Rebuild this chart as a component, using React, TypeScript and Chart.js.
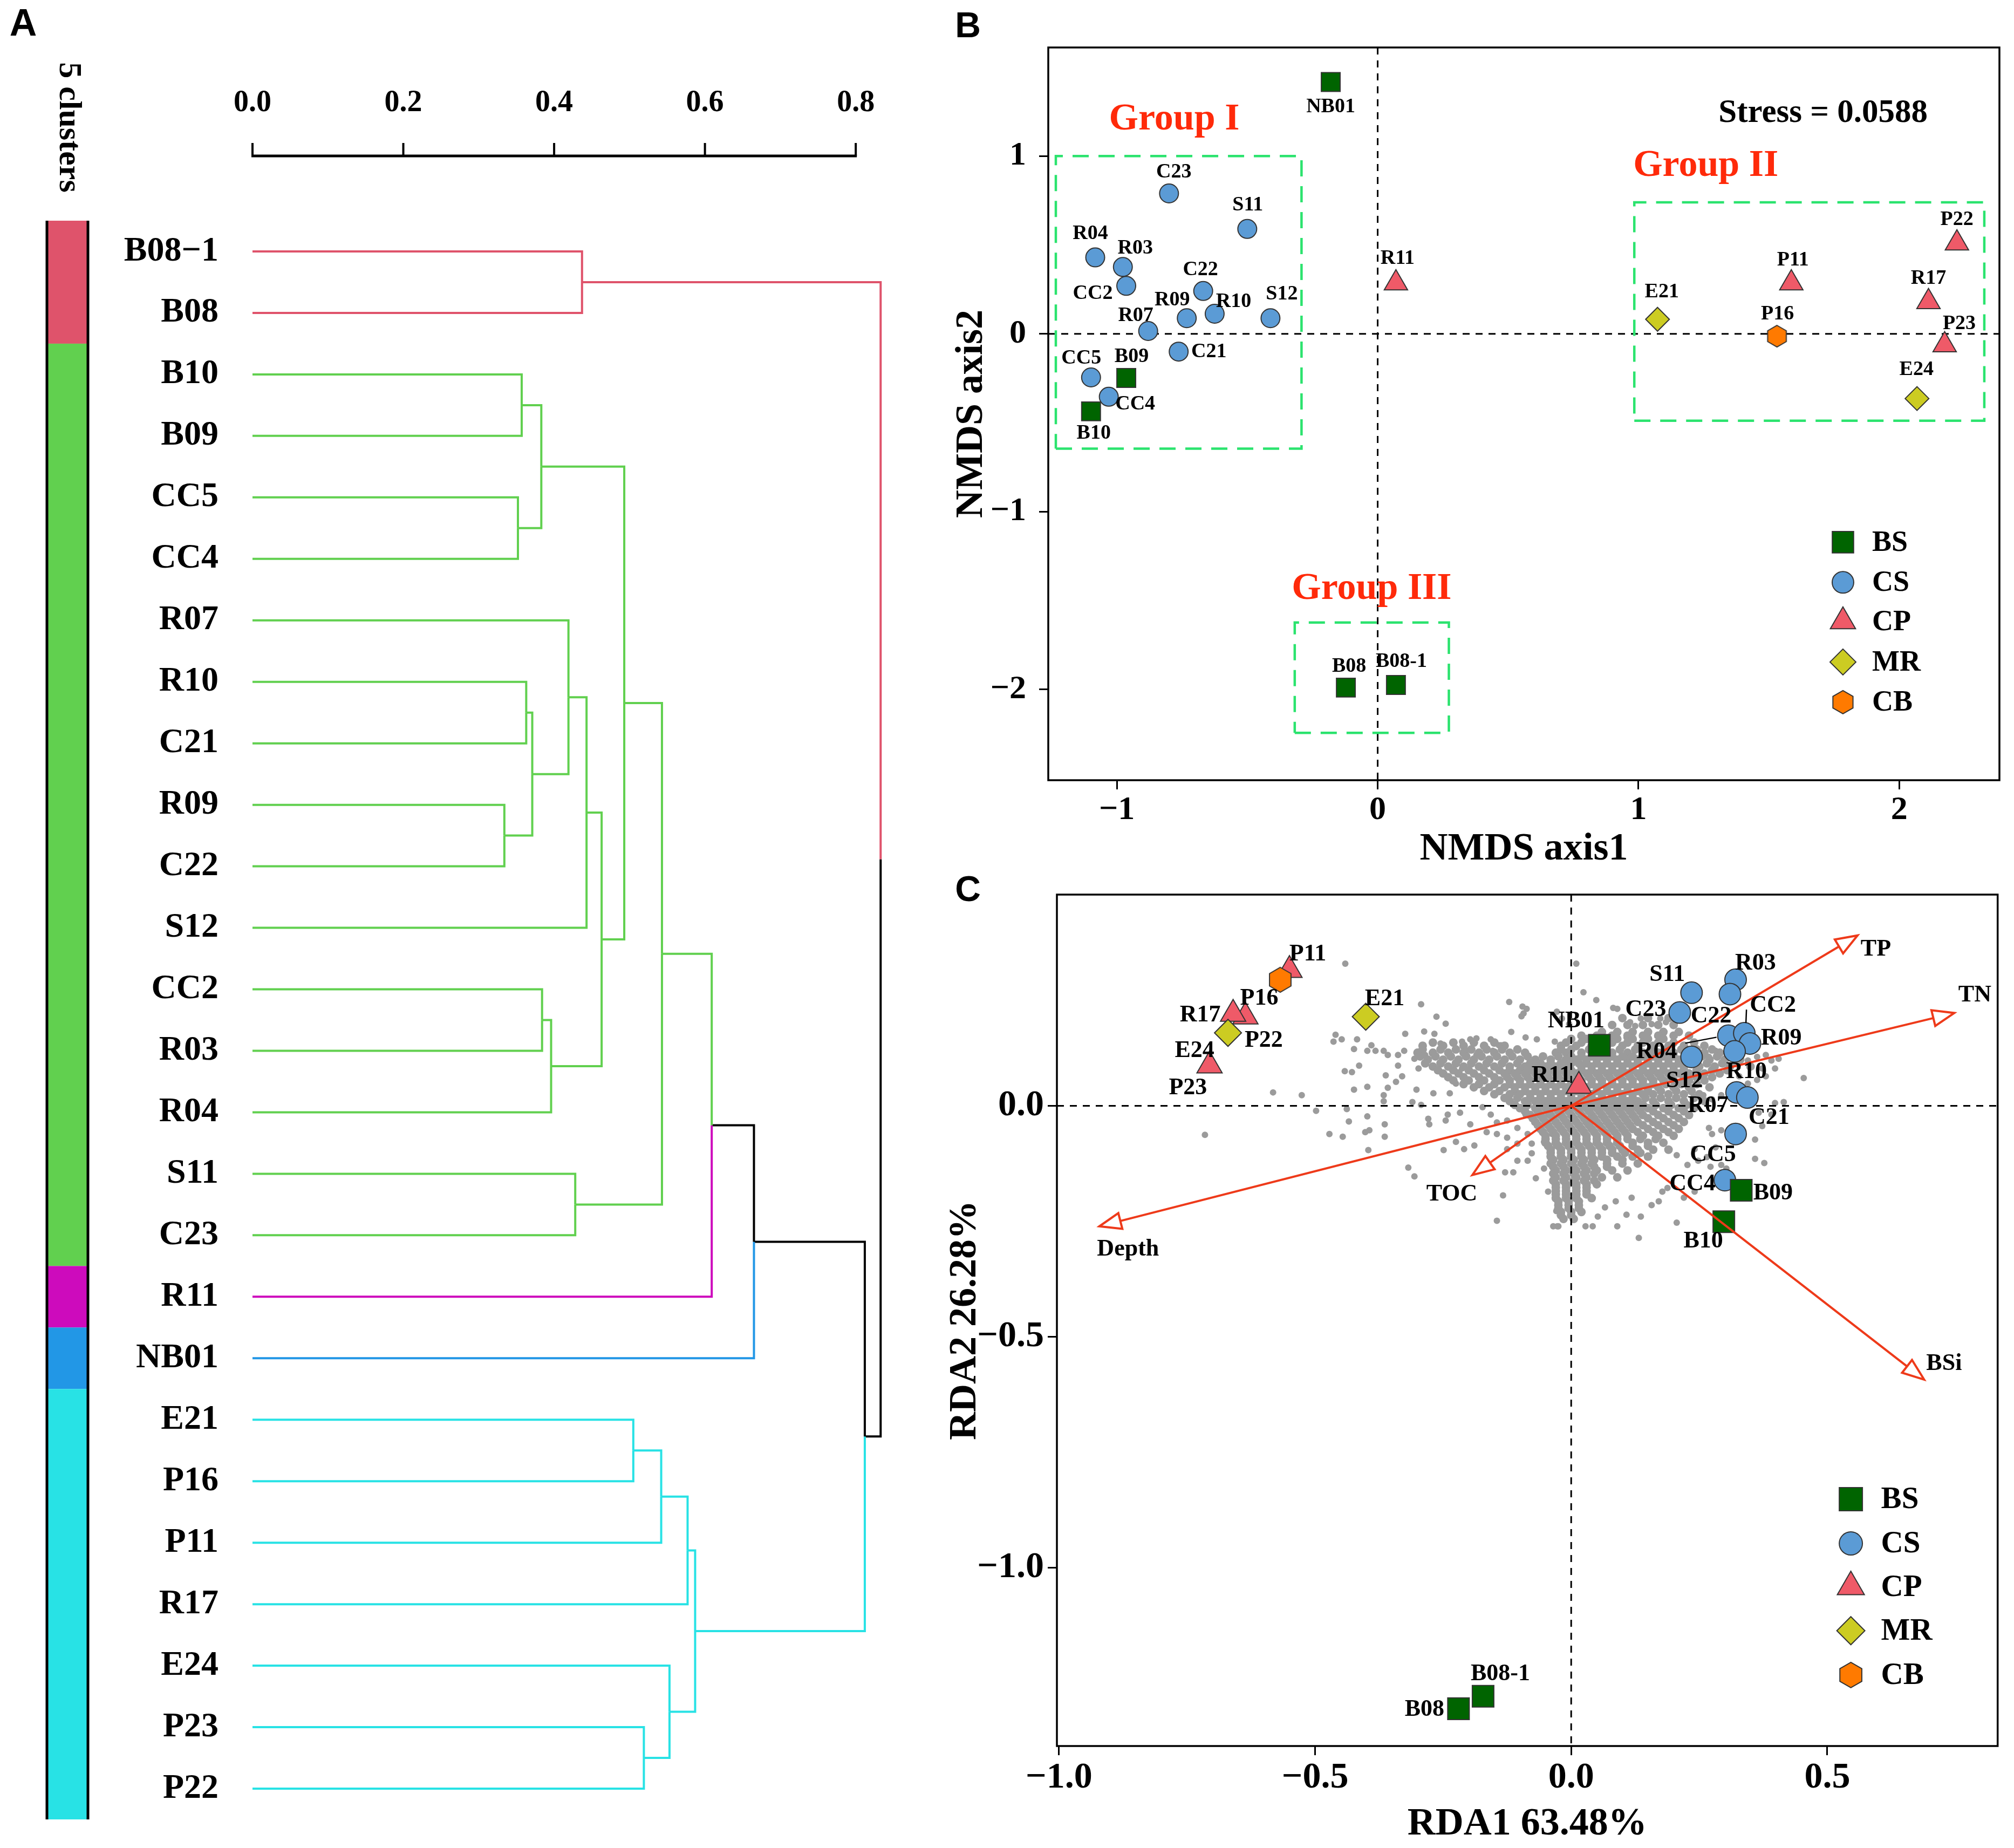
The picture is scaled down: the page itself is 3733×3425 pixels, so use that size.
import React, { useEffect, useRef } from 'react';
import { Chart, registerables } from 'chart.js';

Chart.register(...registerables);

const SERIF = '"Liberation Serif", "Times New Roman", Times, serif';
const SANS = '"Liberation Sans", Arial, Helvetica, sans-serif';

// ================= Panel A: dendrogram =================
const leafNames = ['B08\u22121', 'B08', 'B10', 'B09', 'CC5', 'CC4', 'R07', 'R10', 'C21', 'R09', 'C22', 'S12', 'CC2', 'R03', 'R04', 'S11', 'C23', 'R11', 'NB01', 'E21', 'P16', 'P11', 'R17', 'E24', 'P23', 'P22'];
const leafCluster = [0, 0, 1, 1, 1, 1, 1, 1, 1, 1, 1, 1, 1, 1, 1, 1, 1, 2, 3, 4, 4, 4, 4, 4, 4, 4];
const clusterColors = ['#DF536B', '#61D04F', '#CD0BBC', '#2297E6', '#28E2E5'];
// hclust-style merges: negative = leaf (1-based), positive = earlier merge (1-based)
const mergeLeft = [-1, -3, -5, 2, -8, -10, 5, -7, 8, -13, 10, 9, 4, -16, 13, 15, 16, -20, 18, 19, -25, -24, 20, 17, 1];
const mergeRight = [-2, -4, -6, 3, -9, -11, 6, 7, -12, -14, -15, 11, 12, -17, 14, -18, -19, -21, -22, -23, -26, 21, 22, 23, 24];
const mergeHeight = [0.437, 0.357, 0.352, 0.383, 0.363, 0.334, 0.371, 0.419, 0.443, 0.384, 0.396, 0.463, 0.493, 0.428, 0.543, 0.609, 0.665, 0.505, 0.542, 0.577, 0.519, 0.553, 0.587, 0.812, 0.833];
const dendroTicks = [0, 0.2, 0.4, 0.6, 0.8];
const clusterTitle = '5 clusters';

// ================= Samples (panels B and C) =================
const sampleNames = ['NB01', 'B09', 'B10', 'B08', 'B08-1', 'C23', 'S11', 'R04', 'R03', 'CC2', 'C22', 'R09', 'R10', 'S12', 'R07', 'C21', 'CC5', 'CC4', 'R11', 'P11', 'P22', 'R17', 'P23', 'E21', 'E24', 'P16'];
const sampleType = ['BS', 'BS', 'BS', 'BS', 'BS', 'CS', 'CS', 'CS', 'CS', 'CS', 'CS', 'CS', 'CS', 'CS', 'CS', 'CS', 'CS', 'CS', 'CP', 'CP', 'CP', 'CP', 'CP', 'MR', 'MR', 'CB'];
const nmds1 = [-0.18, -0.964, -1.099, -0.122, 0.07, -0.80, -0.50, -1.083, -0.977, -0.964, -0.669, -0.732, -0.625, -0.411, -0.880, -0.763, -1.099, -1.031, 0.07, 1.586, 2.221, 2.112, 2.174, 1.073, 2.068, 1.531];
const nmds2 = [1.417, -0.248, -0.436, -1.99, -1.975, 0.79, 0.59, 0.43, 0.376, 0.27, 0.241, 0.088, 0.113, 0.088, 0.016, -0.10, -0.245, -0.354, 0.285, 0.285, 0.51, 0.18, -0.063, 0.082, -0.364, -0.013];
const rda1 = [0.055, 0.332, 0.298, -0.220, -0.172, 0.212, 0.235, 0.307, 0.321, 0.338, 0.310, 0.349, 0.319, 0.235, 0.323, 0.344, 0.321, 0.300, 0.015, -0.55, -0.636, -0.66, -0.706, -0.401, -0.670, -0.568];
const rda2 = [0.131, -0.183, -0.251, -1.306, -1.279, 0.202, 0.245, 0.152, 0.273, 0.157, 0.242, 0.135, 0.118, 0.106, 0.029, 0.018, -0.061, -0.161, 0.043, 0.294, 0.193, 0.199, 0.087, 0.193, 0.158, 0.273];
const typeNames = ['BS', 'CS', 'CP', 'MR', 'CB'];

// NMDS groups
const groupNames = ['Group I', 'Group II', 'Group III'];
const groupXMin = [-1.234, 0.984, -0.318];
const groupXMax = [-0.292, 2.326, 0.273];
const groupYMin = [-0.646, -0.489, -2.245];
const groupYMax = [1.0, 0.74, -1.624];
const groupLabelX = [-0.78, 1.258, -0.023];
const groupLabelY = [1.204, 0.944, -1.436];
const stressText = 'Stress = 0.0588';
const nmdsXTicks = [-1, 0, 1, 2];
const nmdsYTicks = [-2, -1, 0, 1];

// RDA environmental vectors
const envNames = ['TP', 'TN', 'BSi', 'Depth', 'TOC'];
const envRda1 = [0.559, 0.748, 0.689, -0.921, -0.193];
const envRda2 = [0.369, 0.201, -0.593, -0.261, -0.150];
const rdaXTicks = [-1, -0.5, 0, 0.5];
const rdaYTicks = [-1, -0.5, 0];

// RDA species scores (grey cloud), dense core read row by row: [rda2, rda1 values]
const grayCoreRows: [number, number[]][] = [
  [0.19, [0.10, 0.15, 0.19]],
  [0.175, [0.08, 0.11, 0.14, 0.17, 0.20]],
  [0.16, [0.06, 0.09, 0.12, 0.15, 0.18, 0.21]],
  [0.152, [0.02, 0.05, 0.08, 0.11, 0.14, 0.17, 0.20, 0.23]],
  [0.145, [0.00, 0.03, 0.06, 0.09, 0.12, 0.15, 0.18]],
  [0.137, [-0.27, -0.23, -0.19, -0.15, -0.01, 0.02, 0.05, 0.08, 0.11, 0.14, 0.17, 0.20, 0.24]],
  [0.13, [-0.29, -0.25, -0.21, -0.17, -0.13, -0.02, 0.01, 0.04, 0.07, 0.10, 0.13, 0.16, 0.19, 0.22, 0.26]],
  [0.122, [-0.29, -0.255, -0.225, -0.195, -0.165, -0.135, -0.105, -0.02, 0.00, 0.035, 0.065, 0.095, 0.125, 0.155, 0.185, 0.215, 0.245, 0.275]],
  [0.115, [-0.30, -0.27, -0.24, -0.21, -0.18, -0.15, -0.12, -0.09, -0.03, -0.01, 0.02, 0.05, 0.08, 0.11, 0.14, 0.17, 0.20, 0.23, 0.26, 0.29]],
  [0.107, [-0.295, -0.265, -0.235, -0.205, -0.175, -0.145, -0.115, -0.085, -0.055, -0.025, 0.00, 0.02, 0.04, 0.06, 0.08, 0.10, 0.12, 0.14, 0.16, 0.18, 0.20, 0.225, 0.255, 0.285, 0.315]],
  [0.10, [-0.28, -0.25, -0.22, -0.19, -0.16, -0.13, -0.10, -0.07, -0.04, -0.01, 0.01, 0.03, 0.05, 0.07, 0.09, 0.11, 0.13, 0.15, 0.17, 0.19, 0.21, 0.24, 0.27, 0.30, 0.33]],
  [0.092, [-0.285, -0.255, -0.225, -0.195, -0.165, -0.135, -0.105, -0.08, -0.06, -0.04, -0.02, 0.00, 0.015, 0.03, 0.05, 0.07, 0.09, 0.11, 0.13, 0.15, 0.17, 0.19, 0.21, 0.235, 0.265, 0.295, 0.325]],
  [0.085, [-0.27, -0.24, -0.21, -0.18, -0.15, -0.12, -0.09, -0.07, -0.05, -0.03, -0.01, 0.02, 0.04, 0.06, 0.08, 0.10, 0.12, 0.14, 0.16, 0.18, 0.20, 0.22, 0.25, 0.28, 0.31, 0.35]],
  [0.077, [-0.26, -0.23, -0.20, -0.17, -0.14, -0.12, -0.10, -0.08, -0.06, -0.04, -0.02, 0.00, 0.02, 0.04, 0.06, 0.08, 0.10, 0.12, 0.14, 0.16, 0.18, 0.20, 0.22, 0.245, 0.275, 0.305]],
  [0.07, [-0.25, -0.22, -0.19, -0.16, -0.13, -0.11, -0.09, -0.07, -0.05, -0.03, -0.01, 0.01, 0.03, 0.05, 0.07, 0.09, 0.11, 0.13, 0.15, 0.17, 0.19, 0.21, 0.23, 0.26, 0.29]],
  [0.062, [-0.24, -0.21, -0.18, -0.15, -0.125, -0.105, -0.085, -0.065, -0.045, -0.025, -0.005, 0.015, 0.035, 0.055, 0.075, 0.095, 0.115, 0.135, 0.155, 0.175, 0.195, 0.22, 0.245, 0.275]],
  [0.055, [-0.23, -0.20, -0.17, -0.14, -0.12, -0.10, -0.08, -0.06, -0.04, -0.02, 0.00, 0.02, 0.04, 0.06, 0.08, 0.10, 0.12, 0.14, 0.16, 0.18, 0.20, 0.23, 0.26]],
  [0.047, [-0.21, -0.18, -0.15, -0.12, -0.10, -0.08, -0.06, -0.04, -0.02, 0.00, 0.02, 0.04, 0.06, 0.08, 0.10, 0.12, 0.14, 0.16, 0.185, 0.215, 0.245]],
  [0.04, [-0.19, -0.16, -0.13, -0.11, -0.09, -0.07, -0.05, -0.03, -0.01, 0.01, 0.03, 0.05, 0.07, 0.09, 0.11, 0.13, 0.15, 0.17, 0.20, 0.23, 0.27]],
  [0.032, [-0.17, -0.14, -0.11, -0.09, -0.07, -0.05, -0.03, -0.01, 0.01, 0.03, 0.05, 0.07, 0.09, 0.11, 0.13, 0.15, 0.175, 0.205, 0.235]],
  [0.025, [-0.15, -0.12, -0.10, -0.08, -0.06, -0.04, -0.02, 0.00, 0.02, 0.04, 0.06, 0.08, 0.10, 0.12, 0.14, 0.16, 0.19, 0.22, 0.25]],
  [0.017, [-0.13, -0.105, -0.08, -0.06, -0.04, -0.02, 0.00, 0.02, 0.04, 0.06, 0.08, 0.10, 0.12, 0.145, 0.175, 0.205, 0.24]],
  [0.01, [-0.12, -0.09, -0.07, -0.05, -0.03, -0.01, 0.01, 0.03, 0.05, 0.07, 0.09, 0.11, 0.13, 0.16, 0.19, 0.22, 0.26]],
  [0.002, [-0.11, -0.085, -0.06, -0.04, -0.02, 0.00, 0.02, 0.04, 0.06, 0.08, 0.10, 0.12, 0.14, 0.165, 0.195, 0.225]],
  [-0.005, [-0.10, -0.07, -0.05, -0.03, -0.01, 0.01, 0.03, 0.05, 0.07, 0.09, 0.11, 0.13, 0.15, 0.18, 0.21, 0.24]],
  [-0.012, [-0.09, -0.065, -0.045, -0.025, -0.005, 0.015, 0.035, 0.055, 0.075, 0.095, 0.115, 0.135, 0.16, 0.19, 0.22]],
  [-0.02, [-0.08, -0.06, -0.04, -0.02, 0.00, 0.02, 0.04, 0.06, 0.08, 0.10, 0.12, 0.14, 0.17, 0.20, 0.23]],
  [-0.027, [-0.075, -0.055, -0.035, -0.015, 0.005, 0.025, 0.045, 0.065, 0.085, 0.105, 0.125, 0.15, 0.18, 0.21]],
  [-0.035, [-0.07, -0.05, -0.03, -0.01, 0.01, 0.03, 0.05, 0.07, 0.09, 0.11, 0.13, 0.16, 0.19, 0.22]],
  [-0.042, [-0.065, -0.045, -0.025, -0.005, 0.015, 0.035, 0.055, 0.075, 0.095, 0.115, 0.14, 0.17, 0.20]],
  [-0.05, [-0.06, -0.04, -0.02, 0.00, 0.02, 0.04, 0.06, 0.08, 0.10, 0.12, 0.15, 0.18, 0.21]],
  [-0.057, [-0.055, -0.035, -0.015, 0.005, 0.025, 0.045, 0.065, 0.085, 0.105, 0.13, 0.16, 0.19]],
  [-0.065, [-0.05, -0.03, -0.01, 0.01, 0.03, 0.05, 0.07, 0.09, 0.11, 0.14, 0.17, 0.20]],
  [-0.072, [-0.05, -0.03, -0.01, 0.01, 0.03, 0.05, 0.07, 0.09, 0.11, 0.135, 0.165]],
  [-0.08, [-0.05, -0.03, -0.01, 0.01, 0.03, 0.05, 0.07, 0.09, 0.12, 0.15, 0.18]],
  [-0.087, [-0.045, -0.025, -0.005, 0.015, 0.035, 0.055, 0.075, 0.095, 0.12, 0.15]],
  [-0.095, [-0.04, -0.02, 0.00, 0.02, 0.04, 0.06, 0.08, 0.10, 0.13, 0.16, 0.19]],
  [-0.102, [-0.04, -0.02, 0.00, 0.02, 0.04, 0.06, 0.08, 0.105, 0.135]],
  [-0.11, [-0.04, -0.02, 0.00, 0.02, 0.04, 0.06, 0.09, 0.12, 0.15]],
  [-0.117, [-0.035, -0.015, 0.005, 0.025, 0.045, 0.07, 0.10]],
  [-0.125, [-0.04, -0.02, 0.00, 0.02, 0.04, 0.07, 0.10, 0.13]],
  [-0.132, [-0.035, -0.015, 0.005, 0.025, 0.045, 0.07]],
  [-0.14, [-0.03, -0.01, 0.01, 0.03, 0.05, 0.08, 0.11]],
  [-0.147, [-0.035, -0.015, 0.005, 0.025, 0.045]],
  [-0.155, [-0.03, -0.01, 0.01, 0.03, 0.06, 0.09]],
  [-0.162, [-0.035, -0.015, 0.005, 0.025, 0.045]],
  [-0.17, [-0.03, -0.01, 0.01, 0.03, 0.05]],
  [-0.177, [-0.03, -0.01, 0.01, 0.03]],
  [-0.185, [-0.03, -0.01, 0.01, 0.03]],
  [-0.192, [-0.03, -0.01, 0.01, 0.03]],
  [-0.20, [-0.03, -0.01, 0.01, 0.04]],
  [-0.207, [-0.025, -0.005, 0.015]],
  [-0.215, [-0.025, -0.005, 0.015]],
  [-0.222, [-0.025, -0.005, 0.015]],
  [-0.23, [-0.02, 0.00, 0.02]],
  [-0.237, [-0.02, 0.00]],
  [-0.245, [-0.015, 0.005]],
];
// scattered species scores around the core: [rda1, rda2]
const grayScatter: [number, number][] = [
  [-0.441, 0.308], [-0.293, 0.220], [-0.263, 0.193], [-0.245, 0.178], [-0.324, 0.156], [-0.287, 0.161], [-0.267, 0.156], [-0.255, 0.135],
  [-0.121, 0.225], [-0.095, 0.215], [-0.087, 0.210], [-0.093, 0.200], [-0.097, 0.194], [-0.117, 0.160], [-0.089, 0.148], [-0.067, 0.144],
  [-0.460, 0.154], [-0.464, 0.139], [-0.448, 0.144], [-0.418, 0.144], [-0.424, 0.123], [-0.390, 0.131], [-0.398, 0.119], [-0.382, 0.119],
  [-0.366, 0.119], [-0.358, 0.110], [-0.338, 0.110], [-0.326, 0.119], [-0.442, 0.075], [-0.428, 0.073], [-0.414, 0.087], [-0.338, 0.087],
  [-0.362, 0.066], [-0.330, 0.064], [-0.342, 0.052], [-0.358, 0.039], [-0.424, 0.035], [-0.398, 0.041], [-0.582, 0.029], [-0.526, 0.023],
  [-0.366, 0.023], [-0.366, 0.010], [-0.306, 0.102], [-0.298, 0.081], [-0.285, 0.110], [-0.302, 0.035], [-0.310, 0.008], [-0.293, 0.002],
  [-0.269, 0.027], [-0.237, 0.027], [-0.225, 0.048], [-0.205, 0.056], [-0.213, 0.081], [-0.205, 0.119], [-0.185, 0.110], [-0.153, 0.119],
  [-0.137, 0.131], [-0.213, 0.139], [-0.197, 0.144], [-0.185, 0.146], [-0.169, 0.127], [-0.157, 0.144], [-0.141, 0.131],
  [-0.498, -0.011], [-0.438, -0.007], [-0.434, -0.034], [-0.398, -0.023], [-0.472, -0.061], [-0.446, -0.067], [-0.402, -0.057], [-0.394, -0.053],
  [-0.364, -0.040], [-0.364, -0.067], [-0.396, -0.096], [-0.318, -0.134], [-0.306, -0.153], [-0.279, -0.028], [-0.277, -0.040], [-0.245, -0.032],
  [-0.241, -0.019], [-0.217, -0.015], [-0.197, -0.040], [-0.225, -0.078], [-0.209, -0.094], [-0.189, -0.086], [-0.249, -0.096], [-0.173, -0.003],
  [-0.157, -0.019], [-0.145, -0.036], [-0.125, -0.032], [-0.105, -0.048], [-0.165, -0.057], [-0.125, -0.069], [-0.085, -0.061], [-0.065, -0.040],
  [-0.045, -0.019], [-0.133, -0.194], [-0.145, -0.249], [-0.129, -0.144], [-0.113, -0.144], [-0.105, -0.119], [-0.085, -0.119], [-0.077, -0.103],
  [-0.069, -0.157], [-0.053, -0.136], [-0.045, -0.186], [-0.029, -0.228], [-0.027, -0.261], [-0.037, -0.061], [-0.029, -0.086], [-0.053, -0.078],
  [-0.077, -0.082], [-0.125, -0.094], [-0.145, -0.061], [-0.105, -0.082], [-0.065, -0.011], [-0.089, -0.019], [-0.715, -0.063],
  [0.010, 0.308], [0.049, 0.229], [0.024, 0.246], [0.082, 0.212], [0.090, 0.210], [0.115, 0.181], [0.125, 0.173], [0.136, 0.189],
  [0.157, 0.177], [0.174, 0.189], [0.185, 0.181], [-0.028, 0.204], [-0.018, 0.189], [-0.004, 0.177], [0.454, 0.060], [0.415, 0.008],
  [0.398, 0.006], [0.366, -0.015], [0.373, -0.044], [0.391, -0.019], [0.359, -0.073], [0.377, -0.124], [0.359, -0.115], [0.269, -0.048],
  [0.275, -0.061], [0.293, -0.053], [0.282, -0.090], [0.265, -0.111], [0.272, -0.132], [0.293, -0.128], [0.303, -0.136], [0.241, -0.094],
  [0.248, -0.119], [0.227, -0.128], [0.206, -0.107],
  [-0.035, -0.261], [-0.025, -0.261], [0.028, -0.261], [0.042, -0.261], [0.090, -0.261], [0.132, -0.286], [0.136, -0.240], [0.206, -0.253],
  [0.052, -0.240], [0.066, -0.220], [0.087, -0.207], [0.108, -0.236], [0.157, -0.215], [0.118, -0.199], [0.178, -0.186], [0.171, -0.207],
  [0.188, -0.178], [0.220, -0.199], [0.241, -0.186],
  [0.066, 0.148], [0.143, 0.148], [0.122, 0.144], [0.241, 0.127], [0.269, 0.106], [0.282, 0.119], [0.328, 0.098], [0.345, 0.098],
  [0.363, 0.106], [0.380, 0.110], [0.391, 0.098], [0.405, 0.102], [0.373, 0.081], [0.398, 0.081], [0.328, 0.064], [0.345, 0.048],
  [0.363, 0.056], [0.380, 0.064], [0.310, 0.031], [0.293, 0.023], [0.275, 0.014], [0.258, 0.023], [0.010, 0.127], [-0.032, 0.139],
  [-0.018, 0.127], [0.049, 0.127], [0.083, 0.139], [0.108, 0.148],
];

// ================= Styles =================
const typeFill: Record<string, string> = { BS: '#006400', CS: '#5b9bd5', CP: '#ef5a68', MR: '#cccc22', CB: '#ff7a00' };
const typeShape: Record<string, string> = { BS: 'rect', CS: 'circle', CP: 'triangle', MR: 'rectRot', CB: 'hex' };
const typeOrder: Record<string, number> = { BS: 4, CS: 5, CP: 3, MR: 2, CB: 1 };
const sizeB: Record<string, number> = { rect: 24.7, circle: 17.5, triangle: 25, rectRot: 22, hex: 20 };
const sizeC: Record<string, number> = { rect: 28.3, circle: 20, triangle: 27, rectRot: 25, hex: 23 };
const sizeLegB: Record<string, number> = { rect: 28, circle: 20, triangle: 27, rectRot: 24, hex: 21.5 };
const sizeLegC: Record<string, number> = { rect: 30.4, circle: 21.5, triangle: 29, rectRot: 26, hex: 23.5 };
const MARKER_EDGE = '#333333';
const RED_TEXT = '#ff2a0a';
const ARROW_RED = '#ee3a1a';
const BOX_GREEN = '#2be36e';
const GREY = '#9b9b9b';
const TRANSPARENT = 'rgba(0,0,0,0)';

const labelOffB: Record<string, [number, number]> = {
  NB01: [0, 46], C23: [9, -39], S11: [1, -44], R04: [-9, -44], R03: [23, -35], CC2: [-62, 14], C22: [-5, -39],
  R09: [-27, -34], R10: [35, -22], S12: [21, -45], R07: [-23, -28], C21: [56, 0], CC5: [-18, -35], B09: [10, -39],
  CC4: [49, 14], B10: [5, 41], R11: [3, -46], E21: [8, -51], P16: [1, -41], P11: [3, -43], P22: [0, -44],
  R17: [0, -43], P23: [27, -39], E24: [-1, -53], B08: [6, -39], 'B08-1': [10, -43],
};
const labelOffC: Record<string, [number, number]> = {
  P11: [34, -29], P16: [-39, 35], R17: [-61, 2], P22: [34, 44], E24: [-62, 33], P23: [-40, 42], E21: [35, -33],
  NB01: [-43, -45], R11: [-51, -19], S11: [-45, -33], R03: [37, -30], C23: [-63, -5], C22: [-35, 41], CC2: [53, -51],
  R04: [-133, 30], R09: [58, -9], R10: [22, 38], S12: [-13, 45], R07: [-53, 25], C21: [40, 38], CC5: [-42, 39],
  CC4: [-60, 7], B09: [59, 6], B10: [-38, 36], B08: [-63, 2], 'B08-1': [32, -41],
};
const leaderC: Record<string, [number, number, number, number]> = {
  R04: [-80, 14, -22, 3],
  CC2: [4, -44, 3, -19],
};
const envLabelOff: [number, number][] = [[34, 26], [38, -33], [37, -29], [53, 43], [-38, 36]];

// ================= helpers =================
function fmtTick(v: number, d: number) {
  const s = Math.abs(v).toFixed(d);
  return v < -1e-9 ? '\u2212' + s : s;
}

function hexPath(ctx: CanvasRenderingContext2D, cx: number, cy: number, R: number) {
  ctx.beginPath();
  for (let k = 0; k < 6; k++) {
    const a = -Math.PI / 2 + (k * Math.PI) / 3;
    const x = cx + R * Math.cos(a);
    const y = cy + R * Math.sin(a);
    if (k === 0) ctx.moveTo(x, y);
    else ctx.lineTo(x, y);
  }
  ctx.closePath();
}

function makeHexCanvas(R: number, fill: string) {
  const size = Math.ceil(2 * R + 6);
  const c = document.createElement('canvas');
  c.width = size;
  c.height = size;
  const ctx = c.getContext('2d')!;
  hexPath(ctx, size / 2, size / 2, R);
  ctx.fillStyle = fill;
  ctx.fill();
  ctx.lineWidth = 2;
  ctx.strokeStyle = MARKER_EDGE;
  ctx.stroke();
  return c;
}

function drawShape(ctx: CanvasRenderingContext2D, shape: string, x: number, y: number, r: number, fill: string) {
  ctx.beginPath();
  if (shape === 'rect') {
    const h = r * Math.SQRT1_2;
    ctx.rect(x - h, y - h, 2 * h, 2 * h);
  } else if (shape === 'circle') {
    ctx.arc(x, y, r, 0, Math.PI * 2);
  } else if (shape === 'triangle') {
    ctx.moveTo(x, y - r);
    ctx.lineTo(x + 0.866 * r, y + 0.5 * r);
    ctx.lineTo(x - 0.866 * r, y + 0.5 * r);
    ctx.closePath();
  } else if (shape === 'rectRot') {
    ctx.moveTo(x, y - r);
    ctx.lineTo(x + r, y);
    ctx.lineTo(x, y + r);
    ctx.lineTo(x - r, y);
    ctx.closePath();
  } else {
    hexPath(ctx, x, y, r);
  }
  ctx.fillStyle = fill;
  ctx.fill();
  ctx.lineWidth = 2;
  ctx.strokeStyle = MARKER_EDGE;
  ctx.stroke();
}

function sampleDatasets(xv: number[], yv: number[], sizes: Record<string, number>) {
  return typeNames.map((t) => {
    const idx = sampleNames.map((_, i) => i).filter((i) => sampleType[i] === t);
    const shape = typeShape[t];
    const style: any = shape === 'hex' ? makeHexCanvas(sizes.hex, typeFill[t]) : shape;
    return {
      label: t,
      data: idx.map((i) => ({ x: xv[i], y: yv[i] })),
      pointStyle: style,
      pointRadius: sizes[shape],
      pointHoverRadius: sizes[shape],
      pointBackgroundColor: typeFill[t],
      pointBorderColor: MARKER_EDGE,
      pointBorderWidth: 2,
      showLine: false,
      order: typeOrder[t],
    };
  });
}

function drawSampleLabels(chart: any, xv: number[], yv: number[], off: Record<string, [number, number]>, fontSize: number) {
  const { ctx, scales } = chart;
  ctx.save();
  ctx.fillStyle = '#000';
  ctx.font = `bold ${fontSize}px ${SERIF}`;
  ctx.textAlign = 'center';
  ctx.textBaseline = 'middle';
  sampleNames.forEach((n, i) => {
    const px = scales.x.getPixelForValue(xv[i]);
    const py = scales.y.getPixelForValue(yv[i]);
    const o = off[n] || [0, -40];
    ctx.fillText(n, px + o[0], py + o[1]);
  });
  ctx.restore();
}

function drawLegend(chart: any, mx: number, tx: number, ys: number[], sizes: Record<string, number>, fontSize: number) {
  const { ctx, scales } = chart;
  ctx.save();
  typeNames.forEach((t, k) => {
    const px = scales.x.getPixelForValue(mx);
    const py = scales.y.getPixelForValue(ys[k]);
    drawShape(ctx, typeShape[t], px, py, sizes[typeShape[t]], typeFill[t]);
    ctx.fillStyle = '#000';
    ctx.font = `bold ${fontSize}px ${SERIF}`;
    ctx.textAlign = 'left';
    ctx.textBaseline = 'middle';
    ctx.fillText(t, scales.x.getPixelForValue(tx), py + 2);
  });
  ctx.restore();
}

function drawZeroLines(chart: any) {
  const { ctx, chartArea: a, scales } = chart;
  const x0 = scales.x.getPixelForValue(0);
  const y0 = scales.y.getPixelForValue(0);
  ctx.save();
  ctx.strokeStyle = '#000';
  ctx.lineWidth = 3;
  ctx.setLineDash([13, 11]);
  ctx.beginPath();
  ctx.moveTo(x0, a.top);
  ctx.lineTo(x0, a.bottom);
  ctx.moveTo(a.left, y0);
  ctx.lineTo(a.right, y0);
  ctx.stroke();
  ctx.restore();
}

function drawFrameAndLetter(chart: any, letter: string, lx: number, ly: number) {
  const { ctx, chartArea: a } = chart;
  ctx.save();
  ctx.strokeStyle = '#000';
  ctx.lineWidth = 3.5;
  ctx.strokeRect(a.left, a.top, a.right - a.left, a.bottom - a.top);
  ctx.fillStyle = '#000';
  ctx.font = `bold 66px ${SANS}`;
  ctx.textAlign = 'center';
  ctx.textBaseline = 'middle';
  ctx.fillText(letter, lx, ly);
  ctx.restore();
}

function axisCommon(ticks: number[], dec: number, tickSize: number, pad: number, title: string, titlePad: any, fit: (s: any) => void, min: number, max: number) {
  return {
    type: 'linear',
    min,
    max,
    afterBuildTicks: (s: any) => {
      s.ticks = ticks.map((v) => ({ value: v }));
    },
    afterFit: fit,
    grid: { display: true, drawOnChartArea: false, drawTicks: true, tickLength: 17, color: '#000', lineWidth: 3 },
    border: { display: false },
    ticks: {
      autoSkip: false,
      maxRotation: 0,
      color: '#000',
      padding: pad,
      font: { family: SERIF, size: tickSize, weight: 'bold' },
      callback: (v: any) => fmtTick(Number(v), dec),
    },
    title: { display: true, text: title, color: '#000', font: { family: SERIF, size: 72, weight: 'bold' }, padding: titlePad },
  };
}

// ================= Panel A =================
function buildDendroEdges() {
  const nodes: { y: number; h: number; cl: number }[] = [];
  const ref = (r: number) => (r < 0 ? { y: -r - 1, h: 0, cl: leafCluster[-r - 1] } : nodes[r - 1]);
  const edges: { pts: { x: number; y: number }[]; color: string }[] = [];
  for (let k = 0; k < mergeHeight.length; k++) {
    const a = ref(mergeLeft[k]);
    const b = ref(mergeRight[k]);
    const h = mergeHeight[k];
    const y = (a.y + b.y) / 2;
    nodes.push({ y, h, cl: a.cl === b.cl ? a.cl : -1 });
    [a, b].forEach((c) => {
      edges.push({
        pts: [{ x: h, y }, { x: h, y: c.y }, { x: c.h, y: c.y }],
        color: c.cl >= 0 ? clusterColors[c.cl] : '#000000',
      });
    });
  }
  return edges;
}

const dendroPlugin = {
  id: 'dendroDecor',
  afterDraw(chart: any) {
    const { ctx, chartArea: a, scales } = chart;
    const xs = scales.x;
    const ys = scales.y;
    ctx.save();
    // top axis
    const yAx = a.top - 120;
    ctx.strokeStyle = '#000';
    ctx.lineWidth = 5;
    ctx.beginPath();
    ctx.moveTo(xs.getPixelForValue(dendroTicks[0]) - 2, yAx);
    ctx.lineTo(xs.getPixelForValue(dendroTicks[dendroTicks.length - 1]) + 2, yAx);
    ctx.stroke();
    ctx.lineWidth = 4;
    dendroTicks.forEach((v) => {
      const px = xs.getPixelForValue(v);
      ctx.beginPath();
      ctx.moveTo(px, yAx);
      ctx.lineTo(px, yAx - 24);
      ctx.stroke();
    });
    // cluster colour bar
    const bx0 = 87;
    const bx1 = 163;
    let start = 0;
    for (let i = 1; i <= leafCluster.length; i++) {
      if (i === leafCluster.length || leafCluster[i] !== leafCluster[start]) {
        const y0 = ys.getPixelForValue(start - 0.5);
        const y1 = ys.getPixelForValue(i - 1 + 0.5);
        ctx.fillStyle = clusterColors[leafCluster[start]];
        ctx.fillRect(bx0, y0, bx1 - bx0, y1 - y0);
        start = i;
      }
    }
    const top = ys.getPixelForValue(-0.5);
    const bot = ys.getPixelForValue(leafCluster.length - 0.5);
    ctx.strokeStyle = '#000';
    ctx.lineWidth = 5;
    ctx.beginPath();
    ctx.moveTo(bx0, top);
    ctx.lineTo(bx0, bot);
    ctx.moveTo(bx1, top);
    ctx.lineTo(bx1, bot);
    ctx.stroke();
    // "5 clusters"
    ctx.save();
    ctx.translate(126, 236);
    ctx.rotate(Math.PI / 2);
    ctx.fillStyle = '#000';
    ctx.font = `bold 60px ${SERIF}`;
    ctx.textAlign = 'center';
    ctx.textBaseline = 'middle';
    ctx.fillText(clusterTitle, 0, 0);
    ctx.restore();
    // panel letter
    ctx.fillStyle = '#000';
    ctx.font = `bold 70px ${SANS}`;
    ctx.textAlign = 'center';
    ctx.textBaseline = 'middle';
    ctx.fillText('A', 43, 47);
    ctx.restore();
  },
};

function makeA(canvas: HTMLCanvasElement) {
  const edges = buildDendroEdges();
  const datasets = edges.map((e) => ({
    data: e.pts,
    showLine: true,
    borderColor: e.color,
    borderWidth: 4,
    pointRadius: 0,
    pointHoverRadius: 0,
    fill: false,
    tension: 0,
    borderJoinStyle: 'miter',
  }));
  return new Chart(canvas, {
    type: 'scatter',
    data: { datasets } as any,
    options: {
      responsive: false,
      animation: false,
      devicePixelRatio: 1,
      events: [],
      layout: { padding: { left: 0, right: 36, top: 0, bottom: 53 } },
      plugins: { legend: { display: false }, tooltip: { enabled: false } },
      scales: {
        x: {
          type: 'linear',
          position: 'top',
          min: 0,
          max: 0.87,
          afterBuildTicks: (s: any) => {
            s.ticks = dendroTicks.map((v) => ({ value: v }));
          },
          afterFit: (s: any) => {
            s.height = 409;
          },
          // invisible tick marks used only as the label offset
          grid: { display: true, drawOnChartArea: false, drawTicks: true, tickLength: 184, color: TRANSPARENT },
          border: { display: false },
          ticks: {
            autoSkip: false,
            maxRotation: 0,
            color: '#000',
            padding: 0,
            font: { family: SERIF, size: 56, weight: 'bold' },
            callback: (v: any) => Number(v).toFixed(1),
          },
        },
        y: {
          type: 'linear',
          min: -0.5,
          max: leafNames.length - 0.5,
          reverse: true,
          afterBuildTicks: (s: any) => {
            s.ticks = leafNames.map((_, i) => ({ value: i }));
          },
          afterFit: (s: any) => {
            s.width = 468;
          },
          grid: { display: true, drawOnChartArea: false, drawTicks: true, tickLength: 63, color: TRANSPARENT },
          border: { display: false },
          ticks: {
            autoSkip: false,
            color: '#000',
            padding: 0,
            font: { family: SERIF, size: 64, weight: 'bold' },
            callback: (v: any) => leafNames[Number(v)] ?? '',
          },
        },
      },
    } as any,
    plugins: [dendroPlugin],
  });
}

// ================= Panel B =================
const nmdsPlugin = {
  id: 'nmdsDecor',
  beforeDatasetsDraw(chart: any) {
    drawZeroLines(chart);
  },
  afterDatasetsDraw(chart: any) {
    const { ctx, scales } = chart;
    drawSampleLabels(chart, nmds1, nmds2, labelOffB, 38);
    ctx.save();
    ctx.textAlign = 'center';
    ctx.textBaseline = 'middle';
    ctx.fillStyle = RED_TEXT;
    ctx.font = `bold 70px ${SERIF}`;
    groupNames.forEach((g, i) => {
      ctx.fillText(g, scales.x.getPixelForValue(groupLabelX[i]), scales.y.getPixelForValue(groupLabelY[i]));
    });
    ctx.fillStyle = '#000';
    ctx.font = `bold 61px ${SERIF}`;
    ctx.fillText(stressText, scales.x.getPixelForValue(1.708), scales.y.getPixelForValue(1.241));
    ctx.restore();
    drawLegend(chart, 1.784, 1.896, [-1.172, -1.398, -1.618, -1.846, -2.072], sizeLegB, 54);
  },
  afterDraw(chart: any) {
    drawFrameAndLetter(chart, 'B', 74, 51);
  },
};

function makeB(canvas: HTMLCanvasElement) {
  const datasets: any[] = sampleDatasets(nmds1, nmds2, sizeB);
  groupNames.forEach((_, i) => {
    datasets.push({
      data: [
        { x: groupXMin[i], y: groupYMin[i] },
        { x: groupXMax[i], y: groupYMin[i] },
        { x: groupXMax[i], y: groupYMax[i] },
        { x: groupXMin[i], y: groupYMax[i] },
        { x: groupXMin[i], y: groupYMin[i] },
      ],
      showLine: true,
      borderColor: BOX_GREEN,
      borderWidth: 4.5,
      borderDash: [30, 18],
      pointRadius: 0,
      pointHoverRadius: 0,
      fill: false,
      tension: 0,
      order: 20,
    });
  });
  return new Chart(canvas, {
    type: 'scatter',
    data: { datasets },
    options: {
      responsive: false,
      animation: false,
      devicePixelRatio: 1,
      events: [],
      layout: { padding: { left: 0, right: 21, top: 88, bottom: 0 } },
      plugins: { legend: { display: false }, tooltip: { enabled: false } },
      scales: {
        x: axisCommon(nmdsXTicks, 0, 62, 2, 'NMDS axis1', { top: 0, bottom: 22 }, (s: any) => { s.height = 194; }, -1.263, 2.384),
        y: axisCommon(nmdsYTicks, 0, 62, 24, 'NMDS axis2', { top: 38, bottom: 0 }, (s: any) => { s.width = 223; }, -2.511, 1.611),
      },
    } as any,
    plugins: [nmdsPlugin],
  });
}

// ================= Panel C =================
function drawRdaOverlay(chart: any) {
  const { ctx, scales } = chart;
  const ox = scales.x.getPixelForValue(0);
  const oy = scales.y.getPixelForValue(0);
  ctx.save();
  envNames.forEach((n, i) => {
    const tx = scales.x.getPixelForValue(envRda1[i]);
    const ty = scales.y.getPixelForValue(envRda2[i]);
    const dx = tx - ox;
    const dy = ty - oy;
    const len = Math.hypot(dx, dy);
    const ux = dx / len;
    const uy = dy / len;
    const L = 40;
    const W = 15;
    const bx = tx - ux * L;
    const by = ty - uy * L;
    ctx.strokeStyle = ARROW_RED;
    ctx.lineWidth = 4;
    ctx.lineJoin = 'miter';
    ctx.beginPath();
    ctx.moveTo(ox, oy);
    ctx.lineTo(bx, by);
    ctx.stroke();
    ctx.beginPath();
    ctx.moveTo(tx, ty);
    ctx.lineTo(bx - uy * W, by + ux * W);
    ctx.lineTo(bx + uy * W, by - ux * W);
    ctx.closePath();
    ctx.fillStyle = '#ffffff';
    ctx.fill();
    ctx.stroke();
    ctx.fillStyle = '#000';
    ctx.font = `bold 44px ${SERIF}`;
    ctx.textAlign = 'center';
    ctx.textBaseline = 'middle';
    ctx.fillText(n, tx + envLabelOff[i][0], ty + envLabelOff[i][1]);
  });
  // leader lines
  ctx.strokeStyle = '#000';
  ctx.lineWidth = 2.5;
  Object.keys(leaderC).forEach((n) => {
    const i = sampleNames.indexOf(n);
    const px = scales.x.getPixelForValue(rda1[i]);
    const py = scales.y.getPixelForValue(rda2[i]);
    const l = leaderC[n];
    ctx.beginPath();
    ctx.moveTo(px + l[0], py + l[1]);
    ctx.lineTo(px + l[2], py + l[3]);
    ctx.stroke();
  });
  ctx.restore();
  drawSampleLabels(chart, rda1, rda2, labelOffC, 44);
  drawLegend(chart, 0.546, 0.605, [-0.852, -0.948, -1.042, -1.137, -1.233], sizeLegC, 57);
}

function makeC(canvas: HTMLCanvasElement) {
  const corePts: { x: number; y: number }[] = [];
  grayCoreRows.forEach(([yv, xsRow]) => xsRow.forEach((xv) => corePts.push({ x: xv, y: yv })));
  const scatterPts = grayScatter.map(([xv, yv]) => ({ x: xv, y: yv }));
  const greyStyle = {
    pointStyle: 'circle',
    pointBackgroundColor: GREY,
    pointBorderWidth: 0,
    pointBorderColor: GREY,
    showLine: false,
    order: 10,
  };
  const datasets: any[] = [
    { label: 'species-core', data: corePts, pointRadius: 8, pointHoverRadius: 8, ...greyStyle },
    { label: 'species', data: scatterPts, pointRadius: 6, pointHoverRadius: 6, ...greyStyle },
    ...sampleDatasets(rda1, rda2, sizeC),
  ];
  let zeroDrawn = false;
  const plugin = {
    id: 'rdaDecor',
    beforeDraw() {
      zeroDrawn = false;
    },
    afterDatasetDraw(chart: any, args: any) {
      if (!zeroDrawn && args.index === 0) {
        zeroDrawn = true;
        drawZeroLines(chart);
      }
    },
    afterDatasetsDraw(chart: any) {
      drawRdaOverlay(chart);
    },
    afterDraw(chart: any) {
      drawFrameAndLetter(chart, 'C', 74, 52);
    },
  };
  return new Chart(canvas, {
    type: 'scatter',
    data: { datasets },
    options: {
      responsive: false,
      animation: false,
      devicePixelRatio: 1,
      events: [],
      layout: { padding: { left: 0, right: 21, top: 58, bottom: 0 } },
      plugins: { legend: { display: false }, tooltip: { enabled: false } },
      scales: {
        x: axisCommon(rdaXTicks, 1, 68, 2, 'RDA1 63.48%', { top: 0, bottom: 0 }, (s: any) => { s.height = 189; }, -1.004, 0.8326),
        y: axisCommon(rdaYTicks, 1, 68, 7, 'RDA2 26.28%', { top: 26, bottom: 0 }, (s: any) => { s.width = 239; }, -1.3868, 0.4575),
      },
    } as any,
    plugins: [plugin],
  });
}

export default function App() {
  const refA = useRef<HTMLCanvasElement>(null);
  const refB = useRef<HTMLCanvasElement>(null);
  const refC = useRef<HTMLCanvasElement>(null);
  useEffect(() => {
    document.body.style.margin = '0';
    const charts = [makeA(refA.current!), makeB(refB.current!), makeC(refC.current!)];
    return () => charts.forEach((c) => c.destroy());
  }, []);
  return (
    <div style={{ position: 'relative', width: 3733, height: 3425, background: '#ffffff', overflow: 'hidden' }}>
      <canvas ref={refA} width={1720} height={3425} style={{ position: 'absolute', left: 0, top: 0, width: 1720, height: 3425 }} />
      <canvas ref={refB} width={2013} height={1640} style={{ position: 'absolute', left: 1720, top: 0, width: 2013, height: 1640 }} />
      <canvas ref={refC} width={2013} height={1825} style={{ position: 'absolute', left: 1720, top: 1600, width: 2013, height: 1825 }} />
    </div>
  );
}
